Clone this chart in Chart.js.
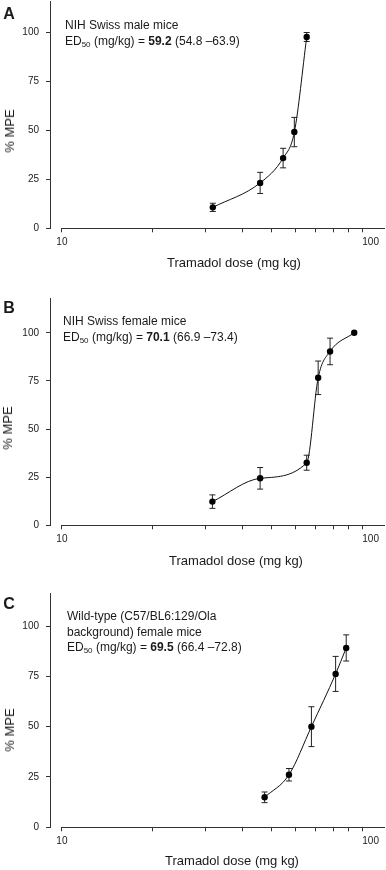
<!DOCTYPE html>
<html>
<head>
<meta charset="utf-8">
<title>Tramadol dose-response</title>
<script src="https://cdn.jsdelivr.net/npm/chart.js@4.4.1/dist/chart.umd.min.js"></script>
<style>
    body { margin: 0; background: #fff; font-family: "Liberation Sans", Arial, sans-serif; color: #1a1a1a; }
    .panel { position: relative; width: 386px; height: 290px; overflow: hidden; }
    .panel canvas { position: absolute; left: 0; top: 0; }
    .lbl { position: absolute; white-space: nowrap; }
    .letter { font-weight: bold; font-size: 16px; line-height: 16px; transform: translate(-50%, -50%); }
    .note { font-size: 12px; line-height: 15.5px; }
    .note sub { font-size: 8px; vertical-align: -2px; line-height: 0; }
    .ytitle { font-size: 13px; line-height: 14px; transform: translate(-50%, -50%) rotate(-90deg); }
    .xtitle { font-size: 13px; line-height: 14px; transform: translate(-50%, -50%); }
</style>
</head>
<body>

<div class="panel">
    <canvas id="chartA" width="386" height="290"></canvas>
    <div class="lbl letter" style="left:9px; top:14px;">A</div>
    <div class="lbl note" style="left:65px; top:18px;">NIH Swiss male mice<br>ED<sub>50</sub> (mg/kg) = <b>59.2</b> (54.8 –63.9)</div>
    <div class="lbl ytitle" style="left:10px; top:131px;">% MPE</div>
    <div class="lbl xtitle" style="left:234px; top:263px;">Tramadol dose (mg kg)</div>
</div>

<div class="panel">
    <canvas id="chartB" width="386" height="290"></canvas>
    <div class="lbl letter" style="left:9px; top:18px;">B</div>
    <div class="lbl note" style="left:63px; top:24px;">NIH Swiss female mice<br>ED<sub>50</sub> (mg/kg) = <b>70.1</b> (66.9 –73.4)</div>
    <div class="lbl ytitle" style="left:8px; top:138px;">% MPE</div>
    <div class="lbl xtitle" style="left:236px; top:271px;">Tramadol dose (mg kg)</div>
</div>

<div class="panel">
    <canvas id="chartC" width="386" height="290"></canvas>
    <div class="lbl letter" style="left:9px; top:24px;">C</div>
    <div class="lbl note" style="left:67px; top:29px;">Wild-type (C57/BL6:129/Ola<br>background) female mice<br>ED<sub>50</sub> (mg/kg) = <b>69.5</b> (66.4 –72.8)</div>
    <div class="lbl ytitle" style="left:10px; top:150px;">% MPE</div>
    <div class="lbl xtitle" style="left:232px; top:281px;">Tramadol dose (mg kg)</div>
</div>

<script>
// Axis ticks
const xTicks = [10, 20, 30, 40, 50, 60, 70, 80, 90, 100];
const xLabeled = [10, 100];
const yTicks = [0, 25, 50, 75, 100];

// Panel A - NIH Swiss male mice
const doseA = [31.8, 45.7, 54.5, 59.4, 65.3];
const mpeA = [10.7, 23.2, 35.9, 49.2, 97.8];
const semA = [2.1, 5.4, 5.0, 7.5, 2.3];

// Panel B - NIH Swiss female mice
const doseB = [31.7, 45.7, 65.3, 71.3, 78.1, 94.0];
const mpeB = [12.3, 24.4, 32.5, 76.6, 90.3, 100];
const semB = [3.5, 5.6, 3.9, 8.7, 6.9, 0];

// Panel C - wild-type female mice
const doseC = [47.3, 57.0, 67.7, 81.5, 88.4];
const mpeC = [14.9, 26.1, 50.0, 76.2, 89.1];
const semC = [2.65, 3.1, 9.9, 8.7, 6.5];

const axisColor = '#333';
const textColor = '#1a1a1a';

Chart.defaults.font.family = '"Liberation Sans", Arial, sans-serif';
Chart.defaults.color = textColor;

// x axis line starts at the first tick, leaving a gap to the y axis
const offsetXAxis = {
    id: 'offsetXAxis',
    afterDraw(chart) {
        const xs = chart.scales.x, ys = chart.scales.y;
        const ctx = chart.ctx;
        const py = Math.round(ys.getPixelForValue(0)) + 0.5;
        ctx.save();
        ctx.strokeStyle = axisColor;
        ctx.lineWidth = 1;
        ctx.beginPath();
        ctx.moveTo(xs.getPixelForValue(xTicks[0]), py);
        ctx.lineTo(chart.chartArea.right, py);
        ctx.stroke();
        ctx.restore();
    }
};

function points(dose, mpe) {
    return dose.map((d, i) => ({ x: d, y: mpe[i] }));
}

function errorBars(dose, mpe, sem) {
    const pts = [];
    dose.forEach((d, i) => {
        if (!sem[i]) return;
        pts.push({ x: d, y: mpe[i] - sem[i] }, { x: d, y: mpe[i] + sem[i] }, { x: d, y: null });
    });
    return pts;
}

// the "100" label sits to the right of its tick in the original
function xLabel(v) {
    if (!xLabeled.includes(v)) return '';
    return v === 100 ? '      ' + v : String(v);
}

function noPadding(s) {
    s.paddingTop = 0;
    s.paddingBottom = 0;
    s.paddingLeft = 0;
    s.paddingRight = 0;
}

function makePanel(id, dose, mpe, sem, yMax, top, xHeight) {
    new Chart(document.getElementById(id), {
        type: 'line',
        data: {
            datasets: [{
                data: points(dose, mpe),
                showLine: false,
                pointRadius: 3.2,
                pointBackgroundColor: '#000',
                pointBorderWidth: 0
            }, {
                data: points(dose, mpe),
                borderColor: '#111',
                borderWidth: 1,
                cubicInterpolationMode: 'monotone',
                pointRadius: 0
            }, {
                data: errorBars(dose, mpe, sem),
                borderColor: '#222',
                borderWidth: 1,
                tension: 0,
                spanGaps: false,
                pointStyle: 'line',
                pointRadius: 3,
                pointBorderColor: '#222',
                pointBorderWidth: 1
            }]
        },
        options: {
            responsive: false,
            animation: false,
            events: [],
            layout: { autoPadding: false, padding: { top: top, right: 1, bottom: 0, left: 0 } },
            plugins: { legend: { display: false }, tooltip: { enabled: false } },
            scales: {
                x: {
                    type: 'logarithmic',
                    min: 9.13,
                    max: 119,
                    afterBuildTicks: s => { s.ticks = xTicks.map(v => ({ value: v })); },
                    afterFit: s => { s.height = xHeight; noPadding(s); },
                    border: { display: false },
                    grid: { drawOnChartArea: false, tickLength: 4, color: axisColor },
                    ticks: {
                        autoSkip: false,
                        maxRotation: 0,
                        padding: 4,
                        font: { size: 10 },
                        callback: xLabel
                    }
                },
                y: {
                    min: 0,
                    max: yMax,
                    afterBuildTicks: s => { s.ticks = yTicks.map(v => ({ value: v })); },
                    afterFit: s => { s.width = 50; noPadding(s); },
                    border: { display: true, color: axisColor, width: 1 },
                    grid: { drawOnChartArea: false, tickLength: 4, color: axisColor },
                    ticks: { padding: 7, font: { size: 10 } }
                }
            }
        },
        plugins: [offsetXAxis]
    });
}

makePanel('chartA', doseA, mpeA, semA, 116, 1.4, 61.7);
makePanel('chartB', doseB, mpeB, semB, 118, 8.1, 54.7);
makePanel('chartC', doseC, mpeC, semC, 116, 13.8, 42.7);
</script>
</body>
</html>
